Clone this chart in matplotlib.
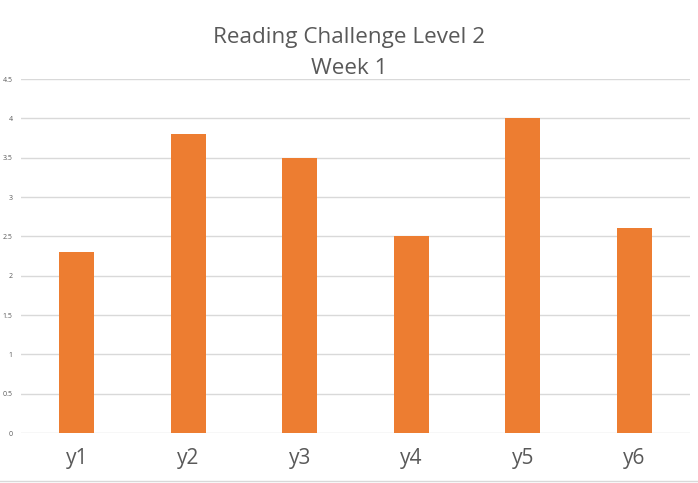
import matplotlib
matplotlib.use("Agg")
import matplotlib.pyplot as plt
from matplotlib.lines import Line2D

categories = ["y1", "y2", "y3", "y4", "y5", "y6"]
values = [2.3, 3.8, 3.5, 2.5, 4.0, 2.6]
yticks = [0, 0.5, 1, 1.5, 2, 2.5, 3, 3.5, 4, 4.5]
ytick_labels = ["0", "0.5", "1", "1.5", "2", "2.5", "3", "3.5", "4", "4.5"]

plt.rcParams['font.family'] = ['Open Sans', 'DejaVu Sans']

fig = plt.figure(figsize=(6.98, 4.83), dpi=100)
ax = fig.add_axes([21/698, 1-433/483, (690-21)/698, (433-79)/483])

x = list(range(len(categories)))
ax.bar(x, values, width=0.31, color="#ED7D31", zorder=3)
ax.set_xlim(-0.5, len(categories) - 0.5)
ax.set_ylim(0, 4.5)
ax.set_yticks(yticks)
ax.set_yticklabels(ytick_labels)
ax.set_xticks(x)
ax.set_xticklabels(categories)
ax.grid(axis="y", color="#d9d9d9", linewidth=1, zorder=0)
for s in ax.spines.values():
    s.set_visible(False)
ax.tick_params(axis="y", length=0, labelsize=5, labelcolor="#595959", pad=6)
ax.tick_params(axis="x", length=0, labelsize=15, labelcolor="#595959", pad=11)

fig.text(0.5, 1-37/483, "Reading Challenge Level 2", ha="center", va="center",
         fontsize=16.2, color="#595959")
fig.text(0.5, 1-68/483, "Week 1", ha="center", va="center",
         fontsize=16.2, color="#595959")

fig.add_artist(Line2D([0, 1], [1-481/483, 1-481/483], transform=fig.transFigure,
                      color="#d9d9d9", linewidth=1))

fig.savefig("out.png", dpi=100)
